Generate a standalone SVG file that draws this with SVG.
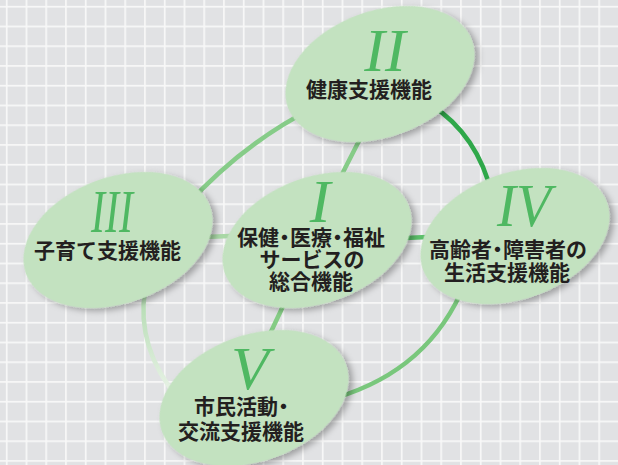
<svg xmlns="http://www.w3.org/2000/svg" width="618" height="465" viewBox="0 0 618 465">
<defs>
<style>
.lbl{font-family:"Noto Sans CJK JP","Noto Sans CJK SC",sans-serif;font-size:21px;font-weight:700;fill:#231f20}
.mid{text-anchor:middle}
.num{font-family:"Liberation Serif","Times New Roman",serif;font-style:italic;font-size:62px;fill:#4fb862;text-anchor:middle}
.node{fill:#c3e2c0;filter:url(#sh)}
.c{fill:none;stroke-linecap:round;stroke-width:4.5}
</style>
<pattern id="grid" x="5.85" y="5.85" width="19.75" height="19.75" patternUnits="userSpaceOnUse">
<rect width="19.75" height="19.75" fill="#e1e2e4"/>
<rect width="1.7" height="19.75" fill="#f8f8f8"/>
<rect width="19.75" height="1.7" fill="#f8f8f8"/>
</pattern>
<linearGradient id="fade" gradientUnits="userSpaceOnUse" x1="0" y1="295" x2="0" y2="395">
<stop offset="0" stop-color="#b2dbb0"/>
<stop offset="1" stop-color="#eaf3e8"/>
</linearGradient>
<filter id="sh" x="-20%" y="-20%" width="150%" height="150%">
<feDropShadow dx="3" dy="4" stdDeviation="3" flood-color="#000" flood-opacity="0.3"/>
</filter>
</defs>
<rect width="618" height="465" fill="url(#grid)"/>
<g id="connectors">
<path class="c" d="M315,107 Q243,143 185,207" stroke="#86cc88"/>
<path class="c" d="M430,104 Q478,135 492,195" stroke="#2fa84a" stroke-width="5.5"/>
<path class="c" d="M465,283 Q430,370 335,398" stroke="#79c77c"/>
<path class="c" d="M145,290 Q136,348 178,398" stroke="url(#fade)"/>
<path class="c" d="M362,135 L338,182" stroke="#86cc88"/>
<path class="c" d="M205,237 L230,236" stroke="#a9d8a6"/>
<path class="c" d="M405,238 L428,237" stroke="#5cbf6a"/>
<path class="c" d="M285,302 L268,338" stroke="#85cc85"/>
</g>
<g id="node-2">
<ellipse class="node" cx="0" cy="0" rx="98" ry="63" transform="translate(380,74) rotate(-20)"/>
<text class="num" x="385" y="71">II</text>
<text class="lbl" x="306" y="97">健康支援機能</text>
</g>
<g id="node-3">
<ellipse class="node" cx="0" cy="0" rx="98" ry="63" transform="translate(118,240) rotate(-20)"/>
<text class="num" x="112" y="232" font-size="60" textLength="42" lengthAdjust="spacingAndGlyphs">III</text>
<text class="lbl" x="34" y="258">子育て支援機能</text>
</g>
<g id="node-1">
<ellipse class="node" cx="0" cy="0" rx="98" ry="63" transform="translate(317,240) rotate(-20)"/>
<text class="num" x="320" y="222">I</text>
<text class="lbl" x="237" y="245">保健<tspan dx="-5">・</tspan><tspan dx="-5">医療</tspan><tspan dx="-5">・</tspan><tspan dx="-5">福祉</tspan></text>
<text class="lbl mid" x="312" y="267">サービスの</text>
<text class="lbl" x="269" y="289">総合機能</text>
</g>
<g id="node-4">
<ellipse class="node" cx="0" cy="0" rx="98" ry="63" transform="translate(515,236) rotate(-20)"/>
<text class="num" x="524" y="226" textLength="54" lengthAdjust="spacingAndGlyphs">IV</text>
<text class="lbl" x="429" y="257">高齢者<tspan dx="-5">・</tspan><tspan dx="-5">障害者の</tspan></text>
<text class="lbl" x="444" y="280">生活支援機能</text>
</g>
<g id="node-5">
<ellipse class="node" cx="0" cy="0" rx="98" ry="63" transform="translate(254,398) rotate(-20)"/>
<text class="num" x="250" y="389">V</text>
<text class="lbl" x="194" y="414">市民活動<tspan dx="-5">・</tspan></text>
<text class="lbl" x="178" y="439">交流支援機能</text>
</g>
</svg>
